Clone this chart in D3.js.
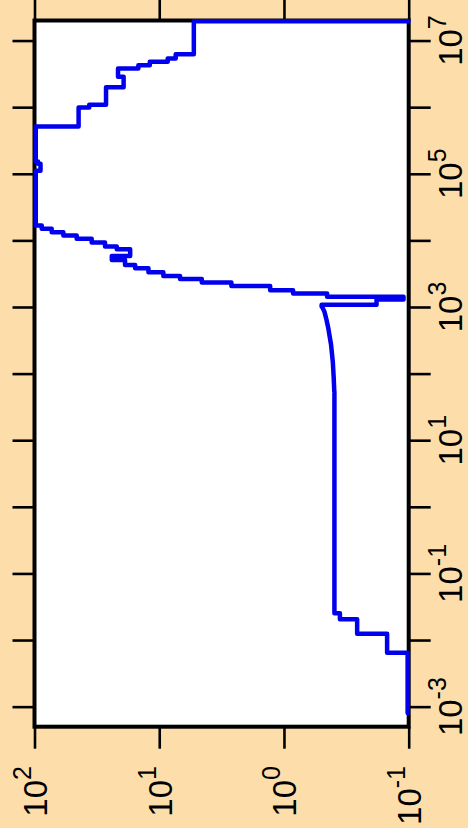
<!DOCTYPE html>
<html><head><meta charset="utf-8">
<script src="https://cdn.jsdelivr.net/npm/d3@7"></script>
<style>html,body{margin:0;padding:0;background:#fddeab;} svg{display:block;}</style>
</head><body><svg id="c" width="468" height="828"></svg>
<script>
// low-x steps: level lowY[i] holds from lowX[i] to the next breakpoint
const lowX = [8.04e-4, 6.47e-3, 0.01247, 0.02051, 0.02523];
const lowY = [0.102, 0.149, 0.259, 0.356, 0.394];
// smooth middle part
const midX = [53.7, 85.1, 151, 269, 479, 676, 851, 955, 1014, 1076];
const midY = [0.395, 0.399, 0.406, 0.419, 0.441, 0.459, 0.474, 0.488, 0.499, 0.499];
// high-x steps: level highY[i] holds from highX[i] to the next breakpoint
const highX = [1076, 1300, 1429, 1589, 1786, 2061, 2339, 2642, 2931, 3334, 3828, 4285,
  5093, 5848, 7379, 8072, 9268, 10544, 11803, 13274, 14894, 16672,
  110660, 140929, 153462, 511682, 986279, 1.084e6, 1.995e6, 2.851e6,
  3.802e6, 4.276e6, 4.786e6, 5.370e6, 6.252e6];
const highY = [0.181, 0.110, 0.451, 0.845, 1.29, 2.64, 4.56, 6.81, 9.27, 12.2, 15.6, 18.8,
  24.0, 17.1, 21.9, 27.2, 34.8, 45.9, 58.7, 72.8, 87.5, 97.7,
  89.5, 93.8, 97.7, 44.3, 36.4, 26.7, 19.3, 21.4,
  14.7, 11.9, 8.55, 7.38, 5.28];
const lastX = 1.954e7, lastY = 0.1;

const xTickValues = [1e-3, 1e-2, 1e-1, 1, 1e1, 1e2, 1e3, 1e4, 1e5, 1e6, 1e7];
const xLabelExps = [-3, -1, 1, 3, 5, 7];
const yTickValues = [0.1, 1, 10, 100];
const yLabelExps = [-1, 0, 1, 2];

const W = 468, H = 828;
const box = {left: 34.5, right: 408.7, top: 20.5, bottom: 726.7};
const svg = d3.select('#c');

// data x runs up the page, data y runs right-to-left (plot rotated)
const x = d3.scaleLog().domain([5e-4, 2e7]).range([box.bottom, box.top]);
const y = d3.scaleLog().domain([0.1, 100]).range([box.right, box.left]);

svg.append('rect').attr('width', W).attr('height', H).attr('fill', '#fddeab');
svg.append('rect').attr('x', box.left).attr('y', box.top)
  .attr('width', box.right - box.left).attr('height', box.bottom - box.top)
  .attr('fill', '#ffffff');

const tickLen = 22;
function styleAxis(g) {
  g.select('.domain').remove();
  g.selectAll('.tick line').attr('stroke', '#000').attr('stroke-width', 2.6);
  g.selectAll('.tick text').remove();
}
svg.append('g').attr('transform', `translate(${box.right},0)`)
  .call(d3.axisRight(x).tickValues(xTickValues).tickSize(tickLen)).call(styleAxis);
svg.append('g').attr('transform', `translate(${box.left},0)`)
  .call(d3.axisLeft(x).tickValues(xTickValues).tickSize(tickLen)).call(styleAxis);
svg.append('g').attr('transform', `translate(0,${box.bottom})`)
  .call(d3.axisBottom(y).tickValues(yTickValues).tickSize(tickLen)).call(styleAxis);
svg.append('g').attr('transform', `translate(0,${box.top})`)
  .call(d3.axisTop(y).tickValues(yTickValues).tickSize(tickLen)).call(styleAxis);

const font = "'Liberation Sans', Arial, Helvetica, sans-serif";
function powText(t, e) {
  t.append('tspan').text('10');
  t.append('tspan').attr('dy', -16).attr('font-size', 25).text(String(e));
}
// right labels (data x)
xLabelExps.forEach(e => {
  const t = svg.append('text')
    .attr('transform', `translate(462,${x(Math.pow(10, e))}) rotate(-90)`)
    .attr('text-anchor', 'middle').attr('font-family', font).attr('font-size', 33).attr('fill', '#000');
  powText(t, e);
});
// bottom labels (data y)
yLabelExps.forEach(e => {
  const t = svg.append('text')
    .attr('transform', `translate(${y(Math.pow(10, e)) + 12.5},766) rotate(-90)`)
    .attr('text-anchor', 'end').attr('font-family', font).attr('font-size', 33).attr('fill', '#000');
  powText(t, e);
});

// frame
svg.append('rect').attr('x', box.left).attr('y', box.top)
  .attr('width', box.right - box.left).attr('height', box.bottom - box.top)
  .attr('fill', 'none').attr('stroke', '#000').attr('stroke-width', 4);

// data line built from the step levels and the smooth middle part
const verts = [];
lowX.forEach((v, i) => {
  verts.push({x: v, y: lowY[i]});
  verts.push({x: i + 1 < lowX.length ? lowX[i + 1] : midX[0], y: lowY[i]});
});
midX.forEach((v, i) => verts.push({x: v, y: midY[i]}));
highX.forEach((v, i) => {
  verts.push({x: v, y: highY[i]});
  verts.push({x: i + 1 < highX.length ? highX[i + 1] : lastX, y: highY[i]});
});
verts.push({x: lastX, y: lastY});

svg.append('clipPath').attr('id', 'clip').append('rect')
  .attr('x', box.left - 2).attr('y', box.top - 2)
  .attr('width', box.right - box.left + 4).attr('height', box.bottom - box.top + 4);
const line = d3.line().x(d => y(d.y)).y(d => x(d.x));
svg.append('path').datum(verts).attr('clip-path', 'url(#clip)')
  .attr('d', line).attr('fill', 'none').attr('stroke', '#0000ee')
  .attr('stroke-width', 4.5).attr('stroke-linejoin', 'round').attr('stroke-linecap', 'round');
</script></body></html>
